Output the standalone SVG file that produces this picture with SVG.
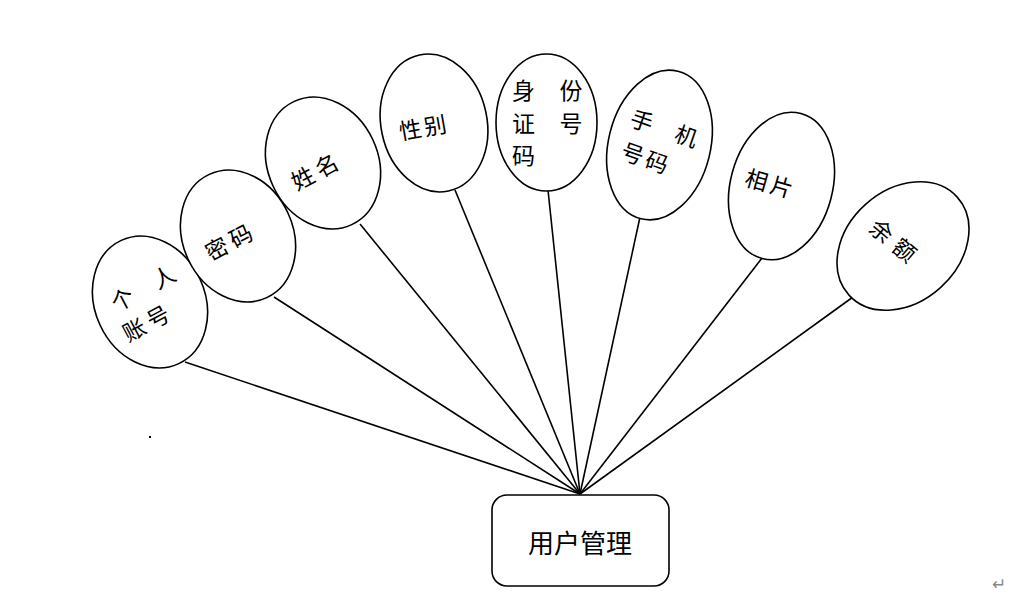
<svg xmlns="http://www.w3.org/2000/svg" width="1011" height="594" viewBox="0 0 1011 594">
<style>
.e{fill:#fff;stroke:#000;stroke-width:1.6}
.c{stroke:#000;stroke-width:1.6;fill:none}
.t{font-family:"Noto Sans CJK SC","Liberation Sans",sans-serif;font-size:22.5px;fill:#000;text-anchor:middle;dominant-baseline:central}
</style>
<rect width="1011" height="594" fill="#fff"/>
<g id="connectors">
<line class="c" x1="185" y1="362" x2="580" y2="494"/>
<line class="c" x1="274" y1="297" x2="580" y2="494"/>
<line class="c" x1="360" y1="224" x2="580" y2="494"/>
<line class="c" x1="455" y1="190" x2="580" y2="494"/>
<line class="c" x1="548" y1="190" x2="580" y2="494"/>
<line class="c" x1="640" y1="217" x2="580" y2="494"/>
<line class="c" x1="762" y1="258" x2="580" y2="494"/>
<line class="c" x1="853" y1="297" x2="580" y2="494"/>
</g>
<g id="n1">
<ellipse class="e" cx="150" cy="302" rx="55" ry="68" transform="rotate(-25 150 302)"/>
<g transform="translate(142 304) rotate(-28)">
<text class="t"><tspan x="-15" y="-15">个</tspan><tspan x="32" y="-15">人</tspan><tspan x="-19" y="17.5">账</tspan><tspan x="8" y="17.5">号</tspan></text>
</g>
</g>
<g id="n2">
<ellipse class="e" cx="238" cy="236" rx="55" ry="68" transform="rotate(-25 238 236)"/>
<g transform="translate(228 241) rotate(-28)">
<text class="t"><tspan x="-13.5" y="0">密</tspan><tspan x="13.5" y="0">码</tspan></text>
</g>
</g>
<g id="n3">
<ellipse class="e" cx="323" cy="163" rx="55" ry="68" transform="rotate(-25 323 163)"/>
<g transform="translate(314 170.5) rotate(-28)">
<text class="t"><tspan x="-13.5" y="0">姓</tspan><tspan x="13.5" y="0">名</tspan></text>
</g>
</g>
<g id="n4">
<ellipse class="e" cx="434" cy="123" rx="53" ry="69.5" transform="rotate(-12 434 123)"/>
<g transform="translate(422.5 126) rotate(-10)">
<text class="t"><tspan x="-12.5" y="0">性</tspan><tspan x="12.5" y="0">别</tspan></text>
</g>
</g>
<g id="n5">
<ellipse class="e" cx="546.5" cy="122.5" rx="50.5" ry="68.5"/>
<text class="t" style="font-size:23px"><tspan x="523.5" y="89">身</tspan><tspan x="571" y="89">份</tspan><tspan x="523.5" y="122">证</tspan><tspan x="571" y="122">号</tspan><tspan x="523.5" y="153.5">码</tspan></text>
</g>
<g id="n6">
<ellipse class="e" cx="659.5" cy="145" rx="51" ry="76" transform="rotate(14 659.5 145)"/>
<g transform="translate(660 142) rotate(19)">
<text class="t"><tspan x="-24" y="-15.5">手</tspan><tspan x="23" y="-15.5">机</tspan><tspan x="-22" y="18.5">号</tspan><tspan x="3.5" y="18.5">码</tspan></text>
</g>
</g>
<g id="n7">
<ellipse class="e" cx="781.5" cy="186" rx="51" ry="75" transform="rotate(15 781.5 186)"/>
<g transform="translate(769.5 182) rotate(16)">
<text class="t"><tspan x="-13" y="0">相</tspan><tspan x="13" y="0">片</tspan></text>
</g>
</g>
<g id="n8">
<ellipse class="e" cx="903" cy="246" rx="56" ry="73" transform="rotate(48 903 246)"/>
<g transform="translate(894 239.5) rotate(40)">
<text class="t"><tspan x="-15" y="0">余</tspan><tspan x="15" y="0">额</tspan></text>
</g>
</g>
<g id="center">
<rect x="492" y="495" width="177" height="91" rx="15" ry="15" fill="#fff" stroke="#000" stroke-width="1.6"/>
<text class="t" x="580" y="541" style="font-size:26px">用户管理</text>
</g>
<rect x="149" y="436" width="2" height="2" fill="#000"/>
<text x="999" y="590" font-family="DejaVu Sans, sans-serif" font-size="17" fill="#888" text-anchor="middle">↵</text>
</svg>
